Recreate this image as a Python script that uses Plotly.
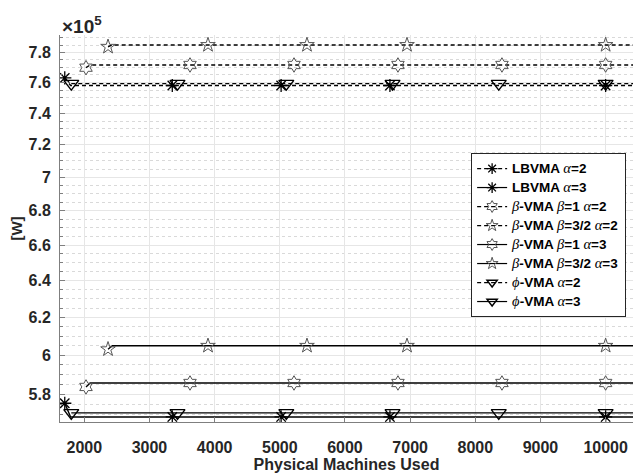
import plotly.graph_objects as go

# ---- data (power in W, x = number of physical machines) ----
x_ticks = [2000, 3000, 4000, 5000, 6000, 7000, 8000, 9000, 10000]
y_ticks = [580000, 600000, 620000, 640000, 660000, 680000, 700000,
           720000, 740000, 760000, 780000]
y_tick_labels = ["5.8", "6", "6.2", "6.4", "6.6", "6.8", "7", "7.2", "7.4", "7.6", "7.8"]

# LBVMA, alpha = 2
lb2_line_x = [1700, 1790, 10700]
lb2_line_y = [763000, 758000, 758000]
lb2_mark_x = [1700, 3350, 5020, 6690, 10000]
lb2_mark_y = [763000, 758000, 758000, 758000, 758000]

# LBVMA, alpha = 3
lb3_line_x = [1700, 1790, 10700]
lb3_line_y = [575500, 568700, 568700]
lb3_mark_x = [1700, 3350, 5020, 6690, 10000]
lb3_mark_y = [575500, 568700, 568700, 568700, 568700]

# beta-VMA beta = 1, alpha = 2
b1a2_line_x = [2026, 2090, 10700]
b1a2_line_y = [769800, 771600, 771600]
b1a2_mark_x = [2026, 3622, 5218, 6813, 8409, 10000]
b1a2_mark_y = [769800, 771600, 771600, 771600, 771600, 771600]

# beta-VMA beta = 3/2, alpha = 2
b32a2_line_x = [2364, 2430, 10700]
b32a2_line_y = [783900, 785100, 785100]
b32a2_mark_x = [2364, 3898, 5417, 6952, 10000]
b32a2_mark_y = [783900, 785100, 785100, 785100, 785100]

# beta-VMA beta = 1, alpha = 3
b1a3_line_x = [2026, 2090, 10700]
b1a3_line_y = [583700, 585700, 585700]
b1a3_mark_x = [2026, 3622, 5218, 6813, 8409, 10000]
b1a3_mark_y = [583700, 585700, 585700, 585700, 585700, 585700]

# beta-VMA beta = 3/2, alpha = 3
b32a3_line_x = [2364, 2430, 10700]
b32a3_line_y = [603100, 604900, 604900]
b32a3_mark_x = [2364, 3898, 5417, 6952, 10000]
b32a3_mark_y = [603100, 604900, 604900, 604900, 604900]

# phi-VMA, alpha = 2
phi2_line_x = [1800, 10700]
phi2_line_y = [759200, 759200]
phi2_mark_x = [1800, 3430, 5100, 6730, 8360, 10000]
phi2_mark_y = [759200, 759200, 759200, 759200, 759200, 759200]

# phi-VMA, alpha = 3
phi3_line_x = [1800, 10700]
phi3_line_y = [570700, 570700]
phi3_mark_x = [1800, 3430, 5100, 6730, 8360, 10000]
phi3_mark_y = [570700, 570700, 570700, 570700, 570700, 570700]

y_minor = [570000, 575000, 585000, 590000, 595000, 605000, 610000, 615000,
           625000, 630000, 635000, 645000, 650000, 655000, 665000, 670000,
           675000, 685000, 690000, 695000, 705000, 710000, 715000, 725000,
           730000, 735000, 745000, 750000, 755000, 765000, 770000, 775000,
           785000, 790000]

# ---- styling ----
SERIF = "font-family:'Liberation Serif';font-style:italic;font-weight:normal;font-size:14.5px"
BOLD = "font-weight:bold;font-size:13.5px"


def g(ch):
    return f"<span style=\"{SERIF}\">{ch}</span>"


def b(txt):
    return f"<span style=\"{BOLD}\">{txt}</span>"


series = [
    (b("LBVMA ") + g("α") + b("=2"), lb2_line_x, lb2_line_y, lb2_mark_x, lb2_mark_y,
     "dash", "asterisk-open", 11, "#000000", 1.3),
    (b("LBVMA ") + g("α") + b("=3"), lb3_line_x, lb3_line_y, lb3_mark_x, lb3_mark_y,
     "solid", "asterisk-open", 11, "#000000", 1.3),
    (g("β") + b("-VMA ") + g("β") + b("=1 ") + g("α") + b("=2"), b1a2_line_x, b1a2_line_y,
     b1a2_mark_x, b1a2_mark_y, "dash", "hexagram-open", 11, "#555555", 1.0),
    (g("β") + b("-VMA ") + g("β") + b("=3/2 ") + g("α") + b("=2"), b32a2_line_x, b32a2_line_y,
     b32a2_mark_x, b32a2_mark_y, "dash", "star-open", 11, "#555555", 1.0),
    (g("β") + b("-VMA ") + g("β") + b("=1 ") + g("α") + b("=3"), b1a3_line_x, b1a3_line_y,
     b1a3_mark_x, b1a3_mark_y, "solid", "hexagram-open", 11, "#555555", 1.0),
    (g("β") + b("-VMA ") + g("β") + b("=3/2 ") + g("α") + b("=3"), b32a3_line_x, b32a3_line_y,
     b32a3_mark_x, b32a3_mark_y, "solid", "star-open", 11, "#555555", 1.0),
    (g("ϕ") + b("-VMA ") + g("α") + b("=2"), phi2_line_x, phi2_line_y, phi2_mark_x, phi2_mark_y,
     "dash", "triangle-down-open", 13, "#000000", 1.4),
    (g("ϕ") + b("-VMA ") + g("α") + b("=3"), phi3_line_x, phi3_line_y, phi3_mark_x, phi3_mark_y,
     "solid", "triangle-down-open", 13, "#000000", 1.4),
]

DASH = "4px,3px"

fig = go.Figure()
for name, lx, ly, mx, my, dash, sym, size, mcol, mw in series:
    d = DASH if dash == "dash" else "solid"
    fig.add_trace(go.Scatter(x=lx, y=ly, mode="lines", showlegend=False,
                             line=dict(color="#000000", width=1.4, dash=d)))
    fig.add_trace(go.Scatter(x=mx, y=my, mode="markers", showlegend=False,
                             marker=dict(symbol=sym, size=size, color=mcol,
                                         line=dict(color=mcol, width=mw))))
    # legend entry combining the line style and marker
    fig.add_trace(go.Scatter(x=[None], y=[None], mode="lines+markers", name=name,
                             line=dict(color="#000000", width=1.2, dash=d),
                             marker=dict(symbol=sym, size=9, color=mcol,
                                         line=dict(color=mcol, width=mw))))

TICK_FONT = dict(family="Liberation Sans", size=16, color="#262626", weight="bold")

fig.update_layout(
    width=633, height=476,
    margin=dict(l=60, r=0, t=35, b=54),
    paper_bgcolor="white", plot_bgcolor="white",
    showlegend=True,
    legend=dict(
        x=0.988, y=0.695, xanchor="right", yanchor="top",
        bgcolor="white", bordercolor="#262626", borderwidth=1,
        font=dict(family="Liberation Sans", size=11.5, color="#000000"),
        tracegroupgap=0, itemwidth=30,
    ),
    xaxis=dict(
        range=[1627, 10420], tickvals=x_ticks,
        ticktext=[str(v) for v in x_ticks],
        tickfont=TICK_FONT, ticks="inside", ticklen=5, tickcolor="#7f7f7f",
        ticklabelstandoff=11,
        showline=True, linecolor="#7f7f7f", linewidth=1, mirror=False,
        showgrid=True, gridcolor="#e6e6e6", gridwidth=1, zeroline=False,
        automargin=False,
        title=dict(text="Physical Machines Used",
                   font=dict(family="Liberation Sans", size=16, color="#262626",
                             weight="bold"),
                   standoff=2),
    ),
    yaxis=dict(
        type="log",
        range=[5.75299, 5.89868],
        tickvals=y_ticks, ticktext=y_tick_labels,
        tickfont=TICK_FONT, ticks="inside", ticklen=5, tickcolor="#7f7f7f",
        ticklabelstandoff=5,
        showline=True, linecolor="#7f7f7f", linewidth=1, mirror=False,
        showgrid=True, gridcolor="#e6e6e6", gridwidth=1, zeroline=False,
        automargin=False,
        minor=dict(tickmode="array", tickvals=y_minor, ticks="inside", ticklen=3,
                   tickcolor="#7f7f7f", showgrid=True, gridcolor="#d9d9d9",
                   griddash="dot", gridwidth=1),
        title=dict(text="[W]",
                   font=dict(family="Liberation Sans", size=15, color="#262626",
                             weight="bold"),
                   standoff=2),
    ),
    annotations=[dict(
        text="×10<sup>5</sup>", xref="paper", yref="paper",
        x=0, y=1, xanchor="left", yanchor="bottom", showarrow=False,
        font=dict(family="Liberation Sans", size=19, color="#262626", weight="bold"),
        xshift=0, yshift=-4,
    )],
)

fig.write_html("out.html")
